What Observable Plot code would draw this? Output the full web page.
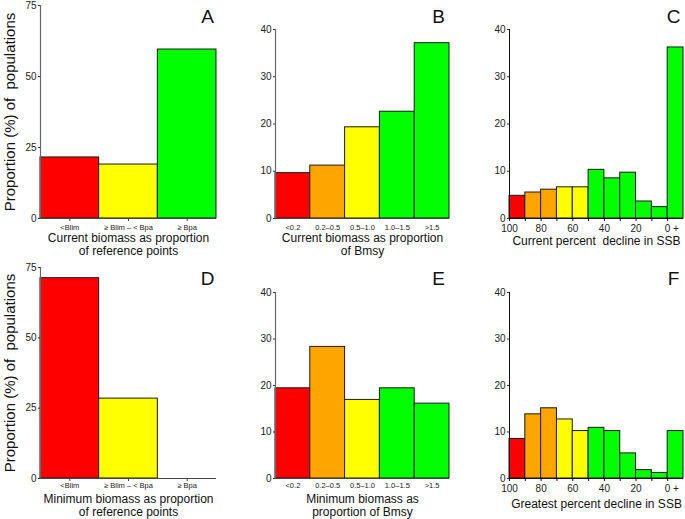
<!DOCTYPE html>
<html>
<head>
<meta charset="utf-8">
<script src="https://cdn.jsdelivr.net/npm/d3@7"></script>
<script src="https://cdn.jsdelivr.net/npm/@observablehq/plot@0.6"></script>
<style>
  body { margin: 0; background: #fff; }
  #chart { position: relative; width: 685px; height: 519px; background: #fff; }
  #chart svg { position: absolute; }
</style>
</head>
<body>
<div id="chart"></div>
<script>
// ---- data ----
const refCats = ["<Blim", "≥ Blim – < Bpa", "≥ Bpa"];
const refColors = ["red", "yellow", "green"];
const currentRef = [21.5, 19.0, 59.5];
const minimumRef = [71.2, 28.4, 0];

const bmsyCats = ["<0.2", "0.2–0.5", "0.5–1.0", "1.0–1.5", ">1.5"];
const bmsyColors = ["red", "orange", "yellow", "green", "green"];
const currentBmsy = [9.6, 11.2, 19.3, 22.6, 37.1];
const minimumBmsy = [19.4, 28.3, 16.9, 19.4, 16.1];

const declineBins = [100, 90, 80, 70, 60, 50, 40, 30, 20, 10, 0]; // start of each 10% bin
const declineColors = ["red", "orange", "orange", "yellow", "yellow", "green", "green", "green", "green", "green", "green"];
const currentDecline = [4.8, 5.5, 6.1, 6.6, 6.6, 10.3, 8.5, 9.7, 3.6, 2.4, 36.2];
const greatestDecline = [8.5, 13.8, 15.1, 12.7, 10.2, 10.9, 10.2, 5.4, 1.8, 1.2, 10.2];

const ticksRef = [0, 25, 50, 75];
const ticks40 = [0, 10, 20, 30, 40];
const declineTicks = [100, 90, 80, 70, 60, 50, 40, 30, 20, 10, 0];

const palette = {red: "#ff0000", orange: "#ffa500", yellow: "#ffff00", green: "#00ff00"};
const FONT = "'Liberation Sans', Arial, Helvetica, sans-serif";

// ---- layout ----
const cols = [
  {left: 0, width: 225, ml: 40, mr: 9, ldx: -9},
  {left: 225, width: 230, ml: 50, mr: 6, ldx: -11},
  {left: 455, width: 230, ml: 54, mr: 2, ldx: -10}
];
const rows = [
  {top: 0, height: 255, mb: 37, mtRef: 5, mt40: 29, ldyRef: 11.5, ldy40: -12.5,
   tdy2: 26, tdy1: 22, lh: 1.1, padTick: 3, padNoTick: 6},
  {top: 255, height: 264, mb: 41, mtRef: 12, mt40: 37, ldyRef: 11, ldy40: -14,
   tdy2: 26.6, tdy1: 25, lh: 1.1, padTick: 1.5, padNoTick: 4.5}
];

function commonMarks({title, twoLine, letter, col, row, isRef, yTitle, yticks}) {
  const m = [
    Plot.axisY(yticks, {tickSize: 2, tickPadding: 2, fontSize: 10, label: null, stroke: "#333", fill: "#222"}),
    Plot.text([title], {
      text: d => d, frameAnchor: "bottom", dy: twoLine ? row.tdy2 : row.tdy1,
      lineAnchor: "middle", fontSize: 12, lineHeight: row.lh, fill: "#111"
    }),
    Plot.text([letter], {
      text: d => d, frameAnchor: "top-right", textAnchor: "middle", lineAnchor: "middle",
      dx: col.ldx, dy: isRef ? row.ldyRef : row.ldy40, fontSize: 19, fill: "#111"
    })
  ];
  if (yTitle) {
    m.push(Plot.text([yTitle], {
      text: d => d, frameAnchor: "left", rotate: -90, dx: -30,
      textAnchor: "middle", lineAnchor: "middle", fontSize: 15, fill: "#111"
    }));
  }
  return m;
}

function categoryPanel({cats, colors, values, ymax, yticks, title, letter, colIdx, rowIdx, tickSize, yTitle}) {
  const col = cols[colIdx], row = rows[rowIdx];
  const isRef = ymax === 75;
  const data = cats.map((c, i) => ({i, cat: c, v: values[i], color: palette[colors[i]]}));
  const n = cats.length;
  const svg = Plot.plot({
    width: col.width, height: row.height,
    marginLeft: col.ml, marginRight: col.mr,
    marginTop: isRef ? row.mtRef : row.mt40, marginBottom: row.mb,
    style: {fontFamily: FONT, background: "transparent", overflow: "visible"},
    x: {domain: [0, n], nice: false, label: null},
    y: {domain: [0, ymax], nice: false, label: null},
    color: {type: "identity"},
    marks: [
      Plot.rectY(data, {x1: d => d.i, x2: d => d.i + 1, y: "v", fill: "color", stroke: "#1a1a1a", strokeWidth: 1}),
      Plot.ruleY([0], {stroke: "#444", strokeWidth: 1}),
      Plot.ruleX([0], {stroke: "#666", strokeWidth: 1.2}),
      Plot.axisX(d3.range(n).map(i => i + 0.5), {
        tickFormat: t => cats[Math.floor(t)], fontSize: 7.5, tickSize: tickSize,
        tickPadding: tickSize ? row.padTick : row.padNoTick,
        label: null, stroke: "#444", fill: "#222"
      }),
      ...commonMarks({title, twoLine: true, letter, col, row, isRef, yTitle, yticks})
    ]
  });
  svg.style.left = col.left + "px";
  svg.style.top = row.top + "px";
  return svg;
}

function declinePanel({values, title, letter, rowIdx}) {
  const col = cols[2], row = rows[rowIdx];
  const data = declineBins.map((b, i) => ({x1: b, x2: b - 10, v: values[i], color: palette[declineColors[i]]}));
  const svg = Plot.plot({
    width: col.width, height: row.height,
    marginLeft: col.ml, marginRight: col.mr,
    marginTop: row.mt40, marginBottom: row.mb,
    style: {fontFamily: FONT, background: "transparent", overflow: "visible"},
    x: {domain: [100, -10], nice: false, label: null},
    y: {domain: [0, 40], nice: false, label: null},
    color: {type: "identity"},
    marks: [
      Plot.rectY(data, {x1: "x1", x2: "x2", y: "v", fill: "color", stroke: "#1a1a1a", strokeWidth: 1}),
      Plot.ruleY([0], {stroke: "#111", strokeWidth: 1}),
      Plot.ruleX([100], {stroke: "#111", strokeWidth: 1}),
      Plot.axisX(declineTicks, {
        tickFormat: d => (d !== 0 && d % 20 === 0) ? String(d) : "",
        fontSize: 10, tickSize: 3, tickPadding: 3, label: null, stroke: "#111", fill: "#222"
      }),
      Plot.text([0], {
        x: d => d, text: () => "0 +", frameAnchor: "bottom", textAnchor: "start",
        lineAnchor: "top", dx: -3, dy: 6, fontSize: 10, fill: "#222"
      }),
      ...commonMarks({title, twoLine: false, letter, col, row, isRef: false, yTitle: null, yticks: ticks40})
    ]
  });
  svg.style.left = col.left + "px";
  svg.style.top = row.top + "px";
  return svg;
}

const chart = document.getElementById("chart");
chart.append(
  categoryPanel({cats: refCats, colors: refColors, values: currentRef, ymax: 75, yticks: ticksRef,
    title: "Current biomass as proportion\nof reference points", letter: "A", colIdx: 0, rowIdx: 0, tickSize: 3,
    yTitle: "Proportion (%) of  populations"}),
  categoryPanel({cats: bmsyCats, colors: bmsyColors, values: currentBmsy, ymax: 40, yticks: ticks40,
    title: "Current biomass as proportion\nof Bmsy", letter: "B", colIdx: 1, rowIdx: 0, tickSize: 0}),
  declinePanel({values: currentDecline, title: "Current percent  decline in SSB", letter: "C", rowIdx: 0}),
  categoryPanel({cats: refCats, colors: refColors, values: minimumRef, ymax: 75, yticks: ticksRef,
    title: "Minimum biomass as proportion\nof reference points", letter: "D", colIdx: 0, rowIdx: 1, tickSize: 3,
    yTitle: "Proportion (%) of  populations"}),
  categoryPanel({cats: bmsyCats, colors: bmsyColors, values: minimumBmsy, ymax: 40, yticks: ticks40,
    title: "Minimum biomass as\nproportion of Bmsy", letter: "E", colIdx: 1, rowIdx: 1, tickSize: 0}),
  declinePanel({values: greatestDecline, title: "Greatest percent decline in SSB", letter: "F", rowIdx: 1})
);
</script>
</body>
</html>
